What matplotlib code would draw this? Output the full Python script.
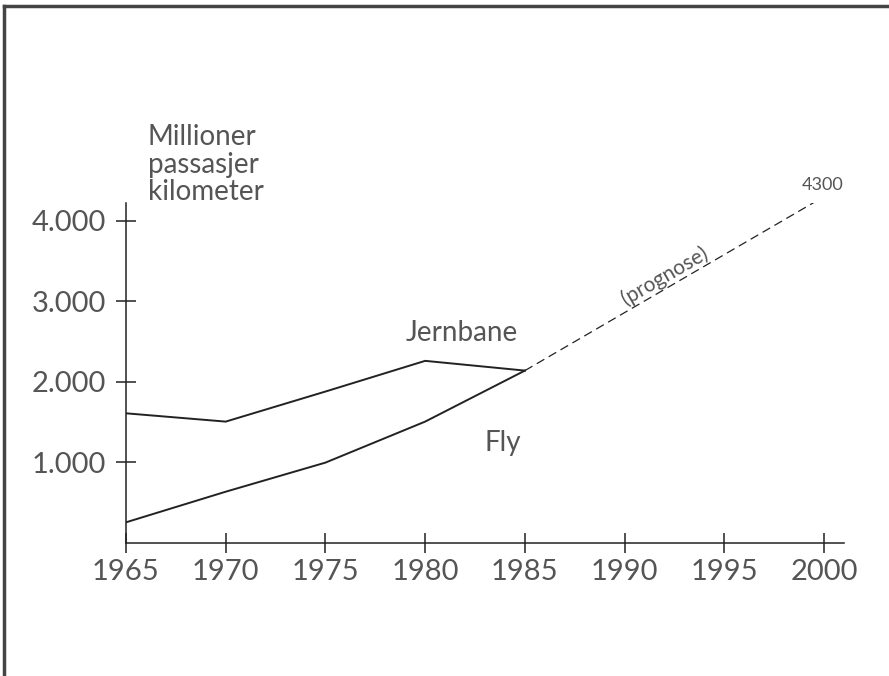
import matplotlib.pyplot as plt
from matplotlib.lines import Line2D

# passenger-km, millions
years = [1965, 1970, 1975, 1980, 1985]
jernbane = [1610, 1507, 1880, 2261, 2140]
fly = [257, 637, 998, 1507, 2140]
prog_years = [1985, 2000]
prognose = [2140, 4300]

xticks = [1965, 1970, 1975, 1980, 1985, 1990, 1995, 2000]
yticks = [1000, 2000, 3000, 4000]
ylabels = ['1.000', '2.000', '3.000', '4.000']

ink = '#222222'
txt = '#555555'
plt.rcParams['font.family'] = ['Lato', 'DejaVu Sans']

fig = plt.figure(figsize=(8.89, 6.76), dpi=100)
ax = fig.add_axes([0.1417, 0.1967, 0.8077, 0.503])

ax.plot(years, jernbane, color=ink, lw=1.4)
ax.plot(years, fly, color=ink, lw=1.4)
ax.plot(prog_years, prognose, color=ink, lw=0.9, dashes=(7, 4))

ax.set_xlim(1965, 2001)
ax.set_ylim(0, 4220)
ax.set_xticks(xticks)
ax.set_xticklabels([str(y) for y in xticks])
ax.set_yticks(yticks)
ax.set_yticklabels(ylabels)

for s in ['top', 'right']:
    ax.spines[s].set_visible(False)
for s in ['left', 'bottom']:
    ax.spines[s].set_color(ink)
    ax.spines[s].set_linewidth(1.1)
ax.tick_params(direction='inout', length=15, width=1.1, color=ink,
               labelsize=21, labelcolor=txt)
ax.tick_params(axis='y', pad=7)
ax.tick_params(axis='x', pad=4)

# annotations
ax.text(1981.85, 2609, 'Jernbane', fontsize=20, color=txt, ha='center', va='center')
ax.text(1983.9, 1242, 'Fly', fontsize=20, color=txt, ha='center', va='center')
ax.text(1999.95, 4447, '4300', fontsize=13, color=txt, ha='center', va='center')
ax.text(1992.0, 3320, '(prognose)', fontsize=15, color=txt, ha='center', va='center',
        rotation=30, rotation_mode='anchor')
fig.text(148 / 889, 1 - 124 / 676, 'Millioner\npassasjer\nkilometer', fontsize=20,
         color=txt, ha='left', va='top', linespacing=1.08)

# frame from the scan (left and top edges only)
fig.add_artist(Line2D([4 / 889, 4 / 889], [0, 1 - 6 / 676], color='#444444', lw=2.5))
fig.add_artist(Line2D([4 / 889, 1], [1 - 6 / 676, 1 - 6 / 676], color='#444444', lw=2.5))

plt.savefig('out.png', dpi=100)
